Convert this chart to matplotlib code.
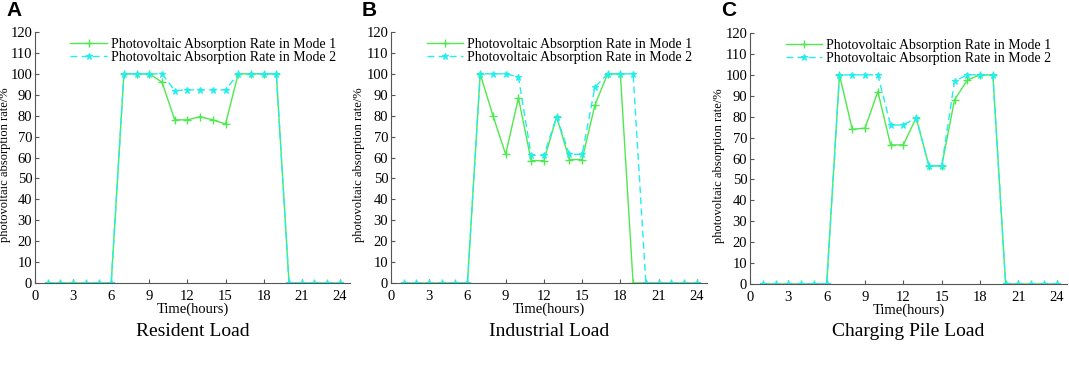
import matplotlib
matplotlib.use('Agg')
import matplotlib.pyplot as plt

plt.rcParams['font.family'] = ['Liberation Serif', 'DejaVu Serif']

hours = list(range(1, 25))

resident_m1 = [0, 0, 0, 0, 0, 0, 100, 100, 100, 96, 78, 78, 79.5, 78, 76, 100, 100, 100, 100, 0, 0, 0, 0, 0]
resident_m2 = [0, 0, 0, 0, 0, 0, 100, 100, 100, 100, 92, 92.3, 92.3, 92.3, 92.3, 100, 100, 100, 100, 0, 0, 0, 0, 0]

industrial_m1 = [0, 0, 0, 0, 0, 0, 100, 80, 61.5, 88.5, 58.5, 58.5, 79.5, 59, 59, 85, 100, 100, 0, 0, 0, 0, 0, 0]
industrial_m2 = [0, 0, 0, 0, 0, 0, 100, 100, 100, 98.5, 61, 61, 79.5, 61.5, 61.5, 93.5, 100, 100, 100, 0, 0, 0, 0, 0]

charging_m1 = [0, 0, 0, 0, 0, 0, 100, 74, 74.5, 92, 66.5, 66.5, 79.5, 56.5, 56.5, 88, 97.5, 100, 100, 0, 0, 0, 0, 0]
charging_m2 = [0, 0, 0, 0, 0, 0, 100, 100, 100, 100, 76, 76, 79.5, 56.5, 56.5, 97, 100, 100, 100, 0, 0, 0, 0, 0]

panels = [('A', 'Resident Load', resident_m1, resident_m2),
          ('B', 'Industrial Load', industrial_m1, industrial_m2),
          ('C', 'Charging Pile Load', charging_m1, charging_m2)]

W, H = 1069, 365
fig = plt.figure(figsize=(W / 100, H / 100), dpi=100)

# pixel boxes of each axes: left, top, right, bottom  + x of the y label
boxes = [(35, 32, 350, 283, 11), (391, 32, 707, 283, 365), (750, 33, 1067, 284, 725)]
green = '#4ee94e'
cyan = '#22eeee'

for (letter, title, m1, m2), (l, t, r, b, yl) in zip(panels, boxes):
    ax = fig.add_axes([l / W, 1 - b / H, (r - l) / W, (b - t) / H])
    ax.plot(hours, m1, color=green, lw=1.0, marker='+', ms=6, mew=1.0,
            label='Photovoltaic Absorption Rate in Mode 1')
    ax.plot(hours, m2, color=cyan, lw=1.0, ls=(0, (5, 3)), marker='*', ms=5, mew=0.8,
            label='Photovoltaic Absorption Rate in Mode 2')
    ax.set_xlim(0, 24.8)
    ax.set_ylim(0, 120)
    ax.set_xticks(range(0, 25, 3))
    ax.set_yticks(range(0, 121, 10))
    ax.spines['top'].set_visible(False)
    ax.spines['right'].set_visible(False)
    for s in ('left', 'bottom'):
        ax.spines[s].set_color('#555555')
        ax.spines[s].set_linewidth(0.8)
    ax.tick_params(direction='in', length=3, labelsize=10.5, colors='#555555',
                   labelcolor='black')
    ax.tick_params(axis='x', pad=5)
    ax.tick_params(axis='y', pad=2)
    ax.set_xlabel('Time(hours)', fontsize=10.5, labelpad=0)
    ax.set_ylabel('photovoltaic absorption rate/%', fontsize=9)
    ax.yaxis.set_label_coords((yl - l) / (r - l), 0.47)
    ax.legend(loc='upper left', bbox_to_anchor=(0.095, 1.0), frameon=False, fontsize=10,
              handlelength=2.6, handletextpad=0.3, labelspacing=0.0, borderaxespad=0)
    fig.text((l + r) / 2 / W, 1 - 332 / H, title, ha='center', va='center', fontsize=14)
    fig.text((l - 29) / W, 1 - 11 / H, letter, ha='left', va='center', fontsize=15,
             fontweight='bold', family=['Liberation Sans', 'DejaVu Sans'])

fig.savefig('out.png', dpi=100)
